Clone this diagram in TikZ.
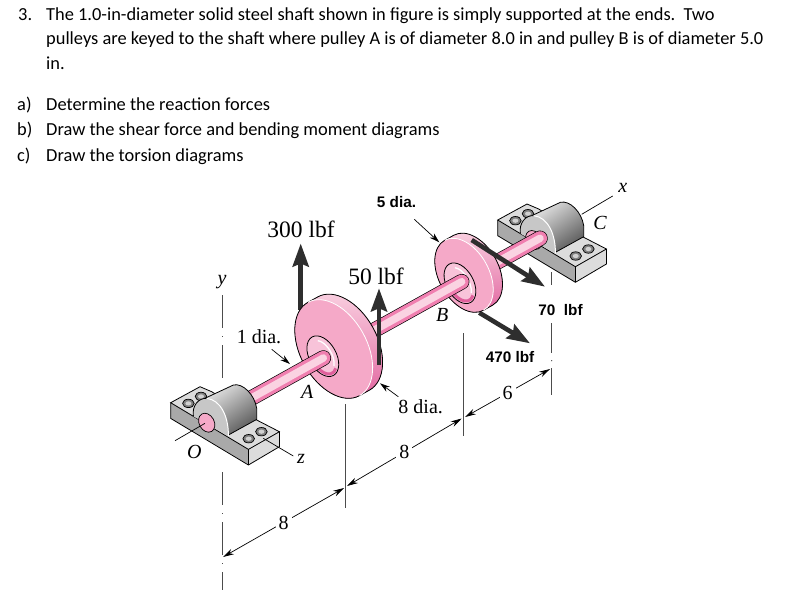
\documentclass[tikz,border=0pt]{standalone}
\usepackage{fontspec}
\setmainfont{Carlito}
\newfontfamily\figserif{Liberation Serif}
\newfontfamily\figsans{Liberation Sans}
\usetikzlibrary{calc,arrows.meta}
\definecolor{pulleyface}{HTML}{F5A9C8}
\definecolor{pulleydeep}{HTML}{E0609C}
\definecolor{pulleypale}{HTML}{FAD3E2}
\definecolor{shaftdeep}{HTML}{F07FB0}
\definecolor{blocktop}{HTML}{DCDCDC}
\definecolor{blockside}{HTML}{A9A9A9}
\definecolor{forcegray}{HTML}{2E2E2E}
\tikzset{
  pics/pulley/.style n args={5}{code={
    \fill[top color=pulleypale, bottom color=pulleydeep] (-#1pt,0pt) -- (-#1pt,#3pt)
      arc[start angle=180, end angle=0, x radius=#1pt, y radius=#2pt] -- (#1pt,0pt)
      arc[start angle=0, end angle=-180, x radius=#1pt, y radius=#2pt] -- cycle;
    \draw[line width=.8pt] (-#1pt,0pt) -- (-#1pt,#3pt)
      arc[start angle=180, end angle=0, x radius=#1pt, y radius=#2pt] -- (#1pt,0pt);
    \fill[pulleyface] (0pt,0pt) ellipse[x radius=#1pt, y radius=#2pt];
    \draw[white, line width=.8pt] (-#1pt,0pt)
      arc[start angle=180, end angle=0, x radius=#1pt, y radius=#2pt];
    \draw[line width=.8pt] (#1pt,0pt)
      arc[start angle=0, end angle=-180, x radius=#1pt, y radius=#2pt];
    \draw[line width=.8pt, fill=pulleyface!70!white] (#4pt,#5pt) ellipse[x radius=22pt, y radius=13.5pt];
    \draw[pulleydeep, line width=3pt] ($(#4pt,#5pt)+(-70:19.5pt and 11pt)$)
      arc[start angle=-70, end angle=30, x radius=19.5pt, y radius=11pt];
    \draw[white, line width=1.3pt] ($(#4pt,#5pt)+(160:17pt and 9pt)$)
      arc[start angle=160, end angle=35, x radius=17pt, y radius=9pt];
  }},
  pics/bearing/.style={code={
    \fill[blockside] (0,0) -- (77.7,46.7) -- (77.7,62.3) -- (0,15.7) -- cycle;
    \fill[blocktop] (77.7,46.7) -- (108.7,29) -- (108.7,44) -- (77.7,62.3) -- cycle;
    \draw[fill=blocktop, line width=.8pt] (0,0) -- (29.3,-16) -- (41,-11) -- (86,17.3) -- (108.7,29) -- (77.7,46.7) -- cycle;
    \draw[line width=.8pt] (0,0) -- (0,15.7) -- (77.7,62.3) -- (108.7,44) -- (108.7,29) (77.7,46.7) -- (77.7,62.3);
    \foreach \boltx/\bolty in {17.7/.7, 30.3/-6.3, 78/36, 90.7/29} {
      \draw[fill=black!50, line width=.7pt] (\boltx,\bolty) ellipse[x radius=5.8pt, y radius=4.2pt];
      \fill[black!18] (\boltx,\bolty) ellipse[x radius=3pt, y radius=2.1pt];
    }
    \shade[top color=black!10, bottom color=black!65, shading angle=35] (57.7,32.3) -- (86,16.7) -- (86,5.7)
      .. controls (84,-8) and (72,-20) .. (62.7,-17.7) -- (34,-4.3) -- cycle;
    \draw[line width=.8pt] (57.7,32.3) -- (86,16.7) -- (86,5.7)
      .. controls (84,-8) and (72,-20) .. (62.7,-17.7) -- (34,-4.3);
    \fill[black!22] (22.7,13.6) .. controls (21,3) and (28,-5) .. (36,-4.3)
      .. controls (50,-3) and (58,14) .. (57.7,33.5) -- cycle;
    \draw[line width=.8pt] (22.7,13.6) .. controls (21,3) and (28,-5) .. (36,-4.3);
    \draw[white, line width=1pt] (36,-4.3) .. controls (50,-3) and (58,14) .. (57.7,33.5);
    \draw[line width=.7pt, fill=pulleyface, rotate around={-61:(36,20)}] (36,20) ellipse[x radius=10pt, y radius=7.5pt];
  }},
  force/.style={forcegray, line width=4.6pt, -{Stealth[length=23pt, width=16pt, inset=3pt]}},
  leader/.style={line width=.7pt, -{Stealth[length=10pt, width=6pt]}},
  dimline/.style={line width=.7pt, {Stealth[length=11pt, width=6pt]}-{Stealth[length=11pt, width=6pt]}},
  extline/.style={line width=.7pt, black!70},
  centerline/.style={line width=.7pt, black!70, dash pattern=on 33pt off 8pt on 1.2pt off 8pt},
  axisline/.style={line width=.7pt},
  question/.style={anchor=base west, inner sep=0pt, font=\fontsize{18.4}{20}\selectfont},
  serifnum/.style={font=\figserif\fontsize{20}{22}\selectfont, inner sep=3pt},
  serifbig/.style={font=\figserif\fontsize{23.5}{26}\selectfont, inner sep=0pt},
  letter/.style={font=\figserif\itshape\fontsize{20}{22}\selectfont, inner sep=0pt},
  boldlabel/.style={font=\figsans\bfseries\fontsize{15.3}{17}\selectfont, inner sep=0pt},
}
\newcommand{\shaftpiece}[2]{
  \draw[line width=15.5pt, line cap=round] (#1) -- (#2);
  \draw[line width=14.2pt, line cap=round, shaftdeep] (#1) -- (#2);
  \draw[line width=7.5pt, line cap=round, pulleypale, shift={(-.5,-1)}] (#1) -- (#2);
}
\begin{document}
\begin{tikzpicture}[x=1pt, y=-1pt]
  \useasboundingbox (0,0) rectangle (795,590);

  \node[question] (q3) at (18,20) {3.};
  \node[question] (q3a) at (46,20) {The 1.0-in-diameter solid steel shaft shown in figure is simply supported at the ends.\ \ Two};
  \node[question] (q3b) at (46,44.5) {pulleys are keyed to the shaft where pulley A is of diameter 8.0 in and pulley B is of diameter 5.0};
  \node[question] (q3c) at (46,69.5) {in.};
  \node[question] (pa) at (17,110.5) {a)};
  \node[question] (ta) at (46,110.5) {Determine the reaction forces};
  \node[question] (pb) at (17,135.5) {b)};
  \node[question] (tb) at (46,135.5) {Draw the shear force and bending moment diagrams};
  \node[question] (pc) at (17,161.5) {c)};
  \node[question] (tc) at (46,161.5) {Draw the torsion diagrams};

  \coordinate (cl1) at (222.3,295);
  \coordinate (cl2) at (222.3,378);
  \coordinate (cl3) at (222.3,472);
  \coordinate (cl4) at (222.3,590);
  \draw[centerline] (cl1) -- (cl2);
  \draw[centerline] (cl3) -- (cl4);

  \coordinate (mid1) at (345.7,404);
  \coordinate (mid2) at (345.7,508);
  \coordinate (midb1) at (463.3,333);
  \coordinate (midb2) at (463.3,436);
  \coordinate (endc1) at (551.7,272);
  \coordinate (endc2) at (551.7,285);
  \coordinate (endc3) at (551.7,323);
  \coordinate (endc4) at (551.7,353);
  \coordinate (endc5) at (551.7,368);
  \coordinate (endc6) at (551.7,395);
  \draw[extline] (mid1) -- (mid2);
  \draw[extline] (midb1) -- (midb2);
  \draw[extline] (endc1) -- (endc2);
  \draw[extline] (endc3) -- (endc4);
  \draw[extline] (endc5) -- (endc6);
  \fill[black!70] (551.7,360.7) circle (.7pt);

  \coordinate (d1a) at (223,557);
  \coordinate (d1b) at (344,488);
  \coordinate (d2a) at (347,486);
  \coordinate (d2b) at (461.7,418.5);
  \coordinate (d3a) at (465,417);
  \coordinate (d3b) at (550,369);
  \draw[dimline] (d1a) -- node[serifnum, fill=white] (dim8a) {8} (d1b);
  \draw[dimline] (d2a) -- node[serifnum, fill=white] (dim8b) {8} (d2b);
  \draw[dimline] (d3a) -- node[serifnum, fill=white] (dim6) {6} (d3b);

  \coordinate (cx1) at (581.7,214.3);
  \coordinate (cx2) at (612.7,196);
  \draw[axisline] (cx1) -- (cx2);
  \pic at (497.7,220) {bearing};
  \coordinate (shaftc) at (540,238.3);
  \coordinate (shaftbback) at (470,277);
  \shaftpiece{shaftc}{shaftbback}

  \coordinate (f470a) at (479.3,312.7);
  \coordinate (f470b) at (530,343.3);
  \draw[force] (f470a) -- (f470b);
  \pic[rotate=-61] at (464,275.3) {pulley={40}{25}{10.6}{5}{-7.4}};
  \coordinate (f70a) at (471.7,240);
  \coordinate (f70b) at (545,286.7);
  \draw[force] (f70a) -- (f70b);

  \coordinate (f300a) at (300.7,310);
  \coordinate (f300b) at (300.7,243.5);
  \draw[force] (f300a) -- (f300b);
  \coordinate (shaftb) at (461.7,281.7);
  \coordinate (shaftaback) at (344,347);
  \shaftpiece{shaftb}{shaftaback}
  \pic[rotate=-61] at (333.7,349) {pulley={53.3}{33.3}{11.4}{1}{-13}};
  \coordinate (f50a) at (379,365);
  \coordinate (f50b) at (379,288.3);
  \draw[force] (f50a) -- (f50b);

  \coordinate (shafta) at (323.3,358);
  \coordinate (shafto) at (230,410);
  \shaftpiece{shafta}{shafto}
  \pic at (170.7,402.7) {bearing};

  \coordinate (oax1) at (175,440.7);
  \coordinate (oax2) at (205,423.3);
  \draw[axisline] (oax1) -- (oax2);
  \coordinate (zax1) at (263.3,438.3);
  \coordinate (zax2) at (293.3,456);
  \draw[axisline] (zax1) -- (zax2);

  \node[serifbig] (f300) at (301,229) {300 lbf};
  \node[serifbig] (f50) at (376,276) {50 lbf};
  \node[serifnum, inner sep=0pt] (dia1) at (259,337) {1 dia.};
  \node[serifnum, inner sep=0pt] (dia8) at (420.7,407) {8 dia.};
  \node[boldlabel] (dia5) at (396.5,202) {5 dia.};
  \node[boldlabel] (f70) at (560.5,310) {70\ \ lbf};
  \node[boldlabel] (f470) at (510,357.5) {470 lbf};
  \node[letter] (lbla) at (307.3,392) {A};
  \node[letter] (lblb) at (442.3,315) {B};
  \node[letter] (lblc) at (600,222.7) {C};
  \node[letter] (lblx) at (622.7,188) {x};
  \node[letter] (lbly) at (222,282) {y};
  \node[letter] (lblo) at (194.3,451.7) {O};
  \node[letter] (lblz) at (301,459) {z};

  \coordinate (l1a) at (271.7,349.3);
  \coordinate (l1b) at (290,364);
  \coordinate (l5a) at (414.3,219.3);
  \coordinate (l5b) at (439.3,242.3);
  \coordinate (l8a) at (398.3,396.7);
  \coordinate (l8b) at (380,383.3);
  \draw[leader] (l1a) -- (l1b);
  \draw[leader] (l5a) -- (l5b);
  \draw[leader] (l8a) -- (l8b);
\end{tikzpicture}
\end{document}
